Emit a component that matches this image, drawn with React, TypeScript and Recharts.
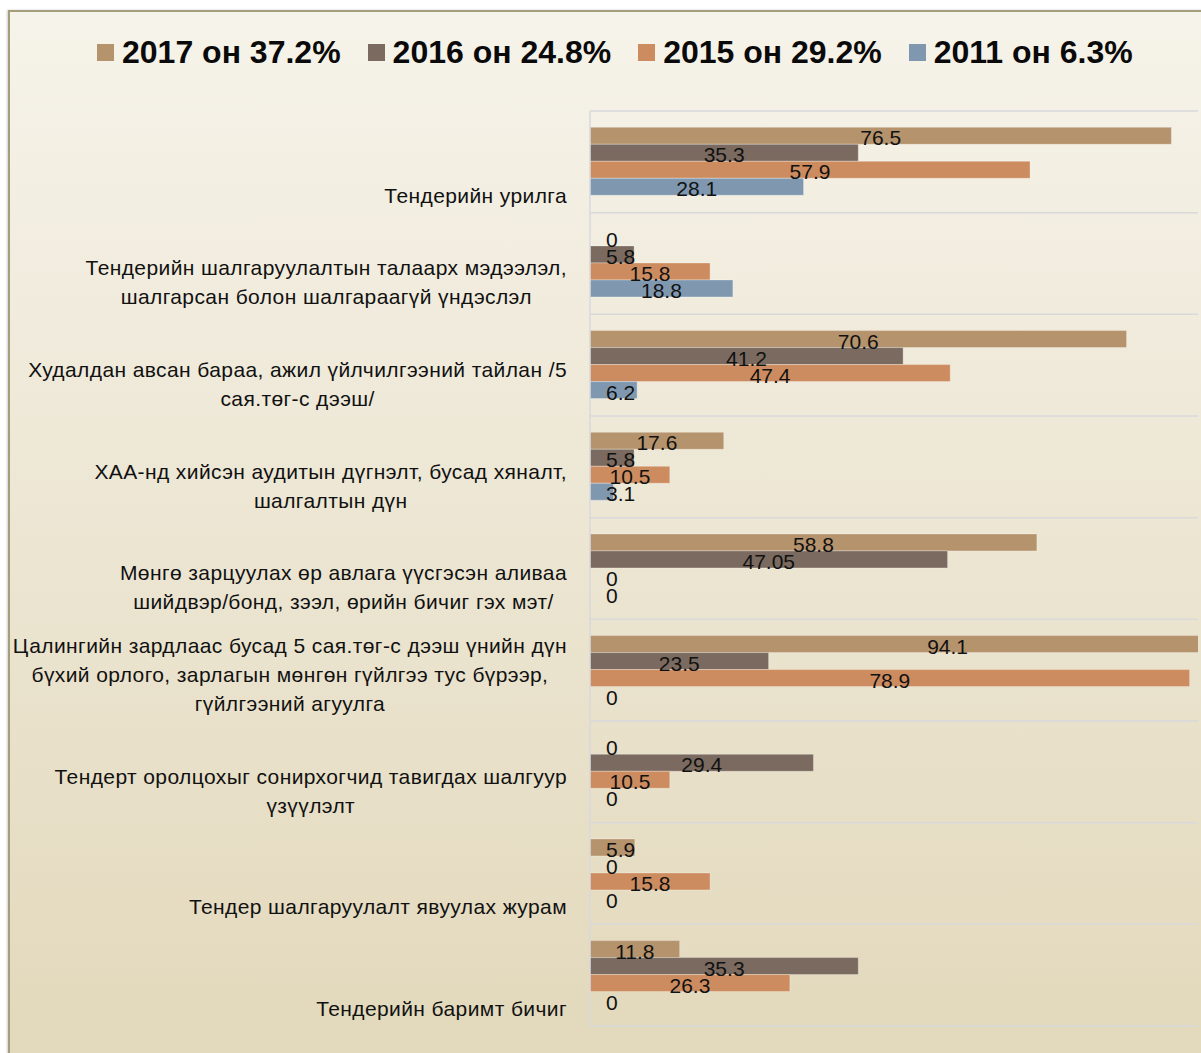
import React from 'react'
import { BarChart, Bar, XAxis, YAxis, CartesianGrid, LabelList, Cell } from 'recharts'

const categories = [
  'Тендерийн урилга',
  'Тендерийн шалгаруулалтын талаарх мэдээлэл,\nшалгарсан болон шалгараагүй үндэслэл',
  'Худалдан авсан бараа, ажил үйлчилгээний тайлан /5\nсая.төг-с дээш/',
  'ХАА-нд хийсэн аудитын дүгнэлт, бусад хяналт,\nшалгалтын дүн',
  'Мөнгө зарцуулах өр авлага үүсгэсэн аливаа\nшийдвэр/бонд, зээл, өрийн бичиг гэх мэт/',
  'Цалингийн зардлаас бусад 5 сая.төг-с дээш үнийн дүн\nбүхий орлого, зарлагын мөнгөн гүйлгээ тус бүрээр,\nгүйлгээний агуулга',
  'Тендерт оролцохыг сонирхогчид тавигдах шалгуур\nүзүүлэлт',
  'Тендер шалгаруулалт явуулах журам',
  'Тендерийн баримт бичиг',
]

const y2017 = [76.5, 0, 70.6, 17.6, 58.8, 94.1, 0, 5.9, 11.8]
const y2016 = [35.3, 5.8, 41.2, 5.8, 47.05, 23.5, 29.4, 0, 35.3]
const y2015 = [57.9, 15.8, 47.4, 10.5, 0, 78.9, 10.5, 15.8, 26.3]
const y2011 = [28.1, 18.8, 6.2, 3.1, 0, 0, 0, 0, 0]

const seriesNames = ['2017 он 37.2%', '2016 он 24.8%', '2015 он 29.2%', '2011 он 6.3%']
const xDomain = [0, 80]

const COLORS = ['#B5936C', '#7A6A5F', '#CD8C5F', '#7F98B0']
const KEYS = ['y2017', 'y2016', 'y2015', 'y2011']

const data = categories.map((name, i) => ({
  name,
  y2017: y2017[i],
  y2016: y2016[i],
  y2015: y2015[i],
  y2011: y2011[i],
}))

const W = 1201
const H = 1053
const margin = { top: 111, right: 3, bottom: 27, left: 0 }
const AXIS_W = 590
const LABEL_RIGHT = 567
const BAND = (H - margin.top - margin.bottom) / categories.length
const FONT = "'Liberation Sans', Arial, sans-serif"
const CAT_SIZE = 21
const CAT_SPACING = 0.4

let ctx: CanvasRenderingContext2D | null = null
function measure(text: string, font: string, spacing = 0) {
  if (!ctx) ctx = document.createElement('canvas').getContext('2d')
  if (!ctx) return text.length * 9
  ctx.font = font
  return ctx.measureText(text).width + spacing * text.length
}

function CategoryTick(props: any) {
  const { y, payload } = props
  const lines = String(payload.value).split('\n')
  const maxW = Math.max(...lines.map((l) => measure(l, `${CAT_SIZE}px ${FONT}`, CAT_SPACING)))
  const cx = LABEL_RIGHT - maxW / 2
  const last = y + BAND / 2 - 10
  return (
    <text textAnchor="middle" fontSize={CAT_SIZE} fontFamily={FONT} fill="#111"
      letterSpacing={CAT_SPACING}>
      {lines.map((l, i) => (
        <tspan key={i} x={cx} y={last - (lines.length - 1 - i) * 29}>
          {l}
        </tspan>
      ))}
    </text>
  )
}

function ValueLabel(props: any) {
  const { x, y, width, height, value } = props
  const txt = String(value)
  const tw = measure(txt, `21px ${FONT}`)
  let cx = x + width / 2
  if (cx - tw / 2 < x + 16) cx = x + 16 + tw / 2
  return (
    <text x={cx} y={y + height / 2 + 2} textAnchor="middle" dominantBaseline="central"
      fontSize={21} fontFamily={FONT} fill="#111">
      {txt}
    </text>
  )
}

function LegendRow() {
  return (
    <div style={{ position: 'absolute', left: 97, top: 34, display: 'flex', alignItems: 'center', fontFamily: FONT, fontWeight: 'bold', fontSize: 32, color: '#0a0a0a', whiteSpace: 'nowrap' }}>
      {seriesNames.map((s, i) => (
        <div key={s} style={{ display: 'flex', alignItems: 'center', marginRight: 27 }}>
          <span style={{ width: 17, height: 17, background: COLORS[i], marginRight: 8, display: 'inline-block' }} />
          <span>{s}</span>
        </div>
      ))}
    </div>
  )
}

export default function App() {
  return (
    <div style={{ position: 'relative', width: W, height: H, overflow: 'hidden' }}>
      <style>{'body{margin:0}'}</style>
      <div style={{
        position: 'absolute', left: 8, top: 10, right: -10, bottom: -10,
        borderLeft: '2px solid #A59E7C', borderTop: '2px solid #A59E7C',
        background: 'linear-gradient(#F6F3EA, #E2D8BB)',
        boxShadow: '-1px 0 2px rgba(0,0,0,0.2)',
      }} />
      <LegendRow />
      <div style={{ position: 'absolute', left: 0, top: 0 }}>
        <BarChart width={W} height={H} data={data} layout="vertical" margin={margin}
          barCategoryGap="16%" barGap={0}>
          <CartesianGrid
            vertical={false}
            stroke="#D9D9DC"
            strokeWidth={1.5}
            horizontalCoordinatesGenerator={({ offset }: any) =>
              categories.map((_, i) => offset.top + i * BAND).concat(offset.top + offset.height)
            }
          />
          <XAxis type="number" domain={xDomain} allowDataOverflow hide />
          <YAxis type="category" dataKey="name" width={AXIS_W} tickLine={false}
            axisLine={{ stroke: '#D9D9DC', strokeWidth: 1.5 }} tick={<CategoryTick />} interval={0} />
          {KEYS.map((k, i) => (
            <Bar key={k} dataKey={k} name={seriesNames[i]} fill={COLORS[i]}
              strokeWidth={1} isAnimationActive={false}
              minPointSize={(v: any) => (v === 0 ? 0.01 : 0)}>
              {data.map((d: any, j) => (
                <Cell key={j} stroke={d[k] === 0 ? 'none' : 'rgba(255,255,255,0.3)'} />
              ))}
              <LabelList dataKey={k} content={<ValueLabel />} />
            </Bar>
          ))}
        </BarChart>
      </div>
    </div>
  )
}
